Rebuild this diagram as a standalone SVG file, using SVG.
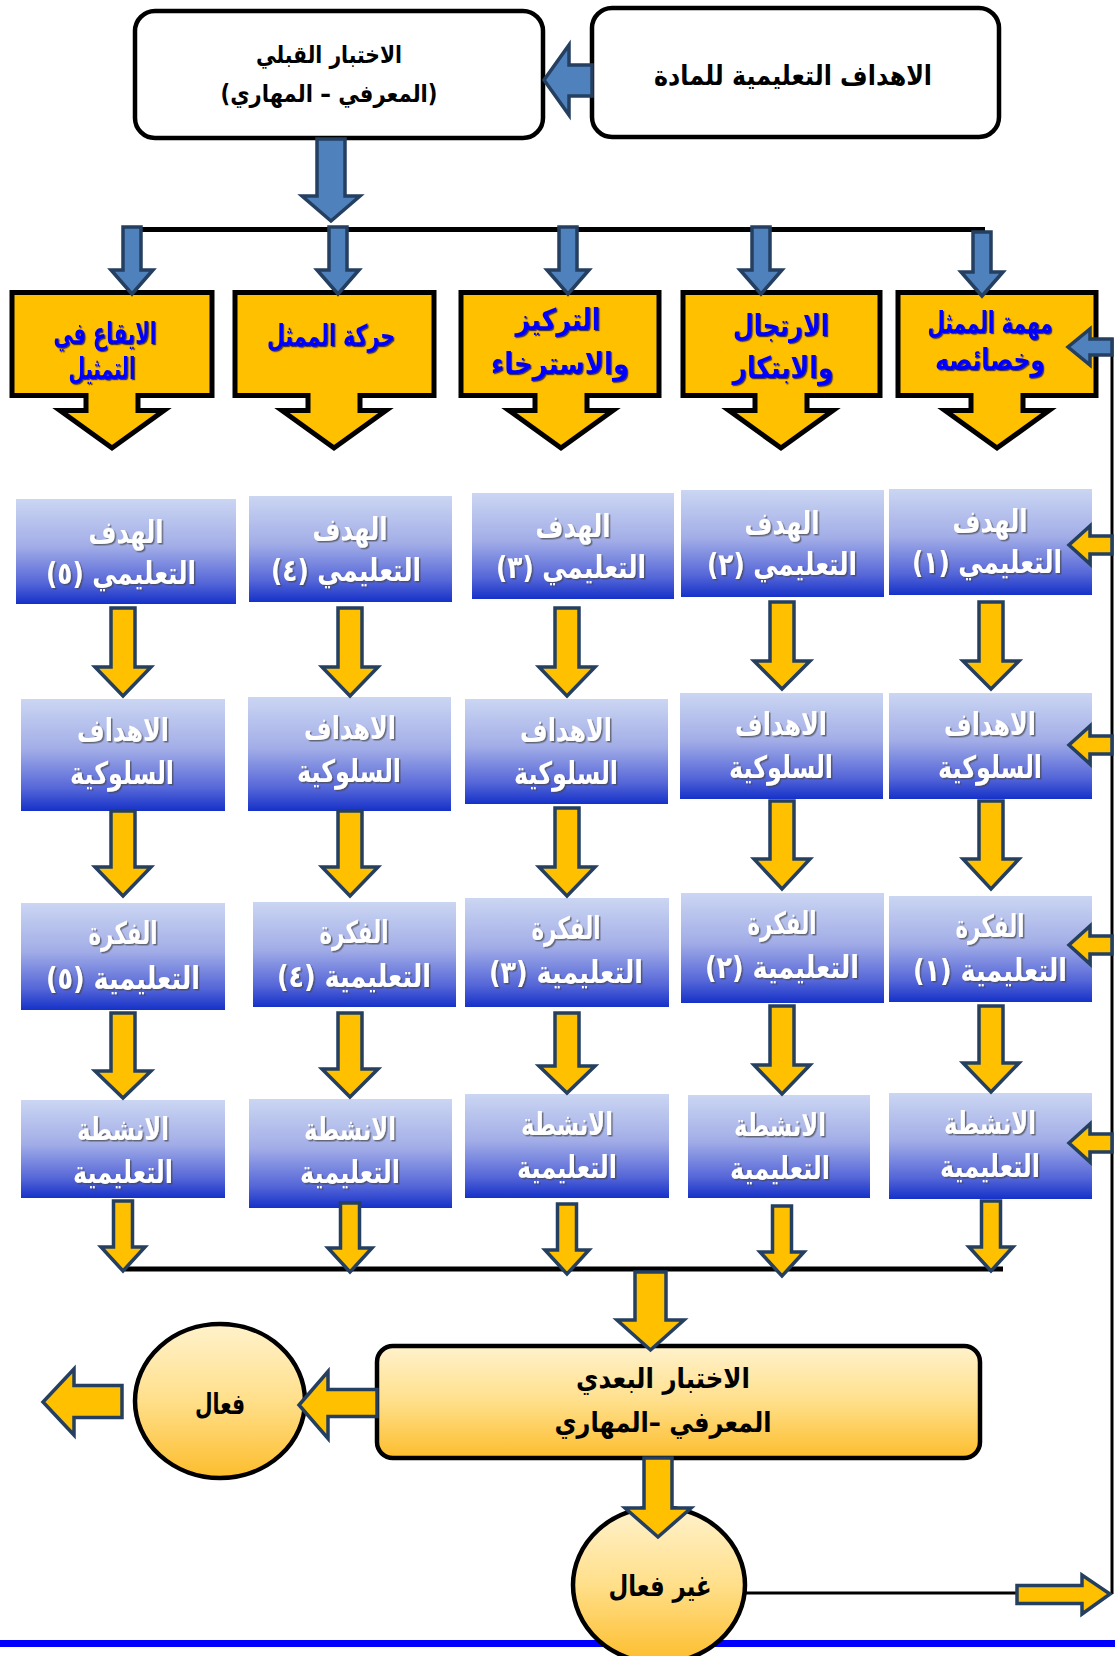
<svg xmlns="http://www.w3.org/2000/svg" width="1115" height="1656" viewBox="0 0 1115 1656">
<defs>
<linearGradient id="gb" x1="0" y1="0" x2="0" y2="1">
<stop offset="0" stop-color="#CBD6F3"/>
<stop offset="0.45" stop-color="#A2ADE7"/>
<stop offset="0.8" stop-color="#5566D8"/>
<stop offset="1" stop-color="#1531C8"/>
</linearGradient>
<linearGradient id="gy" x1="0" y1="0" x2="0" y2="1">
<stop offset="0" stop-color="#FFF2CC"/>
<stop offset="0.5" stop-color="#FFDF8A"/>
<stop offset="1" stop-color="#FDBD2C"/>
</linearGradient>
<filter id="ws" x="-10%" y="-10%" width="120%" height="130%">
<feDropShadow dx="1.5" dy="1.5" stdDeviation="0.6" flood-color="#444" flood-opacity="0.7"/>
</filter>
<filter id="bs" x="-10%" y="-10%" width="120%" height="130%">
<feDropShadow dx="1.2" dy="1.2" stdDeviation="0.4" flood-color="#000050" flood-opacity="0.7"/>
</filter>
</defs>
<style>
.t{font-family:"DejaVu Sans",sans-serif;font-weight:bold;text-anchor:middle;direction:rtl}
.k{fill:#000}
.w{fill:#fff;font-size:31px;filter:url(#ws)}
.y{fill:#0000FF;font-size:30px;filter:url(#bs)}
.wb{fill:#fff;stroke:#000;stroke-width:4.5}
.cb{fill:#FFC000;stroke:#000;stroke-width:5}
.bb{fill:url(#gb)}
.gy{fill:url(#gy);stroke:#000;stroke-width:4.5}
.ba{fill:#4F81BD;stroke:#243F60;stroke-width:3.5}
.ya{fill:#FFC000;stroke:#243F60;stroke-width:3.5}
.ln{fill:none;stroke:#000;stroke-width:5}
.ln3{fill:none;stroke:#000;stroke-width:3}
</style>
<rect width="1115" height="1656" fill="#fff"/>
<line x1="0" y1="1643.5" x2="1115" y2="1643.5" stroke="#0000FF" stroke-width="7"/>

<g id="lines">
<line class="ln" x1="133" y1="229.5" x2="985" y2="229.5"/>
<line class="ln" x1="125" y1="1269" x2="1003" y2="1269"/>
<line class="ln3" x1="1112" y1="338" x2="1112" y2="1594"/>
<line class="ln3" x1="743" y1="1593" x2="1017" y2="1593"/>
</g>

<g id="node-pretest">
<rect class="wb" x="135" y="11" width="408" height="127" rx="20"/>
<text class="t k" x="329" y="63" font-size="24" textLength="146" lengthAdjust="spacingAndGlyphs">الاختبار القبلي</text>
<text class="t k" x="329" y="102" font-size="24" textLength="217" lengthAdjust="spacingAndGlyphs">(المعرفي – المهاري)</text>
</g>
<g id="node-objectives">
<rect class="wb" x="592" y="8" width="407" height="129" rx="20"/>
<text class="t k" x="793" y="85" font-size="27" textLength="278" lengthAdjust="spacingAndGlyphs">الاهداف التعليمية للمادة</text>
</g>

<g id="node-topic5">
<path class="cb" d="M12,292.5 H212 V395.5 H138 V410.5 H164 L112,448 L60,410.5 H86 V395.5 H12 Z"/>
<text class="t y" x="105" y="344" textLength="103" lengthAdjust="spacingAndGlyphs">الايقاع في</text>
<text class="t y" x="102" y="379" textLength="67" lengthAdjust="spacingAndGlyphs">التمثيل</text>
</g>
<g id="node-topic4">
<path class="cb" d="M235,292.5 H434 V395.5 H360 V410.5 H386 L334,448 L282,410.5 H308 V395.5 H235 Z"/>
<text class="t y" x="331" y="346" textLength="128" lengthAdjust="spacingAndGlyphs">حركة الممثل</text>
</g>
<g id="node-topic3">
<path class="cb" d="M461,292.5 H659 V395.5 H587 V410.5 H613 L561,448 L509,410.5 H535 V395.5 H461 Z"/>
<text class="t y" x="558" y="330" textLength="85" lengthAdjust="spacingAndGlyphs">التركيز</text>
<text class="t y" x="560" y="374" textLength="138" lengthAdjust="spacingAndGlyphs">والاسترخاء</text>
</g>
<g id="node-topic2">
<path class="cb" d="M683,292.5 H880 V395.5 H807 V410.5 H833 L781,448 L729,410.5 H755 V395.5 H683 Z"/>
<text class="t y" x="781" y="336" textLength="96" lengthAdjust="spacingAndGlyphs">الارتجال</text>
<text class="t y" x="783" y="378" textLength="101" lengthAdjust="spacingAndGlyphs">والابتكار</text>
</g>
<g id="node-topic1">
<path class="cb" d="M898,292.5 H1096 V395.5 H1023 V410.5 H1049 L997,448 L945,410.5 H971 V395.5 H898 Z"/>
<text class="t y" x="990" y="333" font-size="27" textLength="125" lengthAdjust="spacingAndGlyphs">مهمة الممثل</text>
<text class="t y" x="990" y="370" font-size="27" textLength="110" lengthAdjust="spacingAndGlyphs">وخصائصه</text>
</g>

<g id="node-goal5"><rect class="bb" x="16" y="499" width="220" height="105"/>
<text class="t w" x="126" y="543" textLength="75" lengthAdjust="spacingAndGlyphs">الهدف</text><text class="t w" x="121" y="584" textLength="150" lengthAdjust="spacingAndGlyphs">التعليمي (٥)</text></g>
<g id="node-goal4"><rect class="bb" x="249" y="496" width="203" height="106"/>
<text class="t w" x="350" y="540" textLength="75" lengthAdjust="spacingAndGlyphs">الهدف</text><text class="t w" x="346" y="581" textLength="150" lengthAdjust="spacingAndGlyphs">التعليمي (٤)</text></g>
<g id="node-goal3"><rect class="bb" x="472" y="493" width="202" height="106"/>
<text class="t w" x="573" y="537" textLength="75" lengthAdjust="spacingAndGlyphs">الهدف</text><text class="t w" x="571" y="578" textLength="150" lengthAdjust="spacingAndGlyphs">التعليمي (٣)</text></g>
<g id="node-goal2"><rect class="bb" x="681" y="490" width="203" height="107"/>
<text class="t w" x="782" y="534" textLength="75" lengthAdjust="spacingAndGlyphs">الهدف</text><text class="t w" x="782" y="575" textLength="150" lengthAdjust="spacingAndGlyphs">التعليمي (٢)</text></g>
<g id="node-goal1"><rect class="bb" x="889" y="489" width="203" height="106"/>
<text class="t w" x="990" y="532" textLength="75" lengthAdjust="spacingAndGlyphs">الهدف</text><text class="t w" x="987" y="573" textLength="150" lengthAdjust="spacingAndGlyphs">التعليمي (١)</text></g>

<g id="node-behav5"><rect class="bb" x="21" y="699" width="204" height="112"/>
<text class="t w" x="123" y="741" textLength="92" lengthAdjust="spacingAndGlyphs">الاهداف</text><text class="t w" x="122" y="784" textLength="104" lengthAdjust="spacingAndGlyphs">السلوكية</text></g>
<g id="node-behav4"><rect class="bb" x="248" y="697" width="203" height="114"/>
<text class="t w" x="350" y="739" textLength="92" lengthAdjust="spacingAndGlyphs">الاهداف</text><text class="t w" x="349" y="782" textLength="104" lengthAdjust="spacingAndGlyphs">السلوكية</text></g>
<g id="node-behav3"><rect class="bb" x="465" y="699" width="203" height="105"/>
<text class="t w" x="566" y="741" textLength="92" lengthAdjust="spacingAndGlyphs">الاهداف</text><text class="t w" x="566" y="784" textLength="104" lengthAdjust="spacingAndGlyphs">السلوكية</text></g>
<g id="node-behav2"><rect class="bb" x="680" y="693" width="203" height="106"/>
<text class="t w" x="781" y="735" textLength="92" lengthAdjust="spacingAndGlyphs">الاهداف</text><text class="t w" x="781" y="778" textLength="104" lengthAdjust="spacingAndGlyphs">السلوكية</text></g>
<g id="node-behav1"><rect class="bb" x="889" y="693" width="203" height="106"/>
<text class="t w" x="990" y="735" textLength="92" lengthAdjust="spacingAndGlyphs">الاهداف</text><text class="t w" x="990" y="778" textLength="104" lengthAdjust="spacingAndGlyphs">السلوكية</text></g>

<g id="node-idea5"><rect class="bb" x="21" y="903" width="204" height="107"/>
<text class="t w" x="123" y="944" textLength="69" lengthAdjust="spacingAndGlyphs">الفكرة</text><text class="t w" x="123" y="989" textLength="154" lengthAdjust="spacingAndGlyphs">التعليمية (٥)</text></g>
<g id="node-idea4"><rect class="bb" x="253" y="902" width="203" height="105"/>
<text class="t w" x="354" y="943" textLength="69" lengthAdjust="spacingAndGlyphs">الفكرة</text><text class="t w" x="354" y="987" textLength="154" lengthAdjust="spacingAndGlyphs">التعليمية (٤)</text></g>
<g id="node-idea3"><rect class="bb" x="465" y="898" width="204" height="109"/>
<text class="t w" x="566" y="939" textLength="69" lengthAdjust="spacingAndGlyphs">الفكرة</text><text class="t w" x="566" y="983" textLength="154" lengthAdjust="spacingAndGlyphs">التعليمية (٣)</text></g>
<g id="node-idea2"><rect class="bb" x="681" y="893" width="203" height="110"/>
<text class="t w" x="782" y="934" textLength="69" lengthAdjust="spacingAndGlyphs">الفكرة</text><text class="t w" x="782" y="978" textLength="154" lengthAdjust="spacingAndGlyphs">التعليمية (٢)</text></g>
<g id="node-idea1"><rect class="bb" x="889" y="896" width="203" height="106"/>
<text class="t w" x="990" y="937" textLength="69" lengthAdjust="spacingAndGlyphs">الفكرة</text><text class="t w" x="990" y="981" textLength="154" lengthAdjust="spacingAndGlyphs">التعليمية (١)</text></g>

<g id="node-act5"><rect class="bb" x="21" y="1100" width="204" height="98"/>
<text class="t w" x="123" y="1140" textLength="92" lengthAdjust="spacingAndGlyphs">الانشطة</text><text class="t w" x="123" y="1183" textLength="100" lengthAdjust="spacingAndGlyphs">التعليمية</text></g>
<g id="node-act4"><rect class="bb" x="249" y="1099" width="203" height="109"/>
<text class="t w" x="350" y="1140" textLength="92" lengthAdjust="spacingAndGlyphs">الانشطة</text><text class="t w" x="350" y="1183" textLength="100" lengthAdjust="spacingAndGlyphs">التعليمية</text></g>
<g id="node-act3"><rect class="bb" x="465" y="1094" width="204" height="104"/>
<text class="t w" x="567" y="1135" textLength="92" lengthAdjust="spacingAndGlyphs">الانشطة</text><text class="t w" x="567" y="1178" textLength="100" lengthAdjust="spacingAndGlyphs">التعليمية</text></g>
<g id="node-act2"><rect class="bb" x="688" y="1095" width="182" height="103"/>
<text class="t w" x="780" y="1136" textLength="92" lengthAdjust="spacingAndGlyphs">الانشطة</text><text class="t w" x="780" y="1179" textLength="100" lengthAdjust="spacingAndGlyphs">التعليمية</text></g>
<g id="node-act1"><rect class="bb" x="889" y="1093" width="203" height="106"/>
<text class="t w" x="990" y="1134" textLength="92" lengthAdjust="spacingAndGlyphs">الانشطة</text><text class="t w" x="990" y="1177" textLength="100" lengthAdjust="spacingAndGlyphs">التعليمية</text></g>

<g id="node-posttest">
<rect class="gy" x="377" y="1346" width="603" height="112" rx="16"/>
<text class="t k" x="663" y="1388" font-size="28" textLength="174" lengthAdjust="spacingAndGlyphs">الاختبار البعدي</text>
<text class="t k" x="663" y="1432" font-size="28" textLength="217" lengthAdjust="spacingAndGlyphs">المعرفي –المهاري</text>
</g>
<g id="node-effective">
<ellipse class="gy" cx="220" cy="1401" rx="85" ry="77"/>
<text class="t k" x="220" y="1414" font-size="29" textLength="50" lengthAdjust="spacingAndGlyphs">فعال</text>
</g>
<g id="node-ineffective">
<ellipse class="gy" cx="659" cy="1585" rx="86" ry="78"/>
<text class="t k" x="660" y="1596" font-size="29" textLength="103" lengthAdjust="spacingAndGlyphs">غير فعال</text>
</g>

<g id="connectors">
<path class="ba" d="M592,65 H569 V45 L544,80 L569,115 V96 H592 Z"/>
<path class="ba" d="M317,139 H345 V196 H360 L331,221 L302,196 H317 Z"/>
<path class="ba" d="M123,227 H141 V270 H153 L132,294 L111,270 H123 Z"/>
<path class="ba" d="M329,227 H347 V270 H359 L338,294 L317,270 H329 Z"/>
<path class="ba" d="M559,227 H577 V270 H589 L568,294 L547,270 H559 Z"/>
<path class="ba" d="M752,227 H770 V270 H782 L761,294 L740,270 H752 Z"/>
<path class="ba" d="M973,232 H991 V272 H1003 L982,296 L961,272 H973 Z"/>
<path class="ba" d="M1112,339 H1090 V329 L1068,347 L1090,365 V355 H1112 Z"/>

<path class="ya" d="M111,608 H135 V667 H151 L123,696 L95,667 H111 Z"/>
<path class="ya" d="M338,608 H362 V667 H378 L350,696 L322,667 H338 Z"/>
<path class="ya" d="M555,608 H579 V667 H595 L567,696 L539,667 H555 Z"/>
<path class="ya" d="M770,602 H794 V661 H810 L782,689 L754,661 H770 Z"/>
<path class="ya" d="M979,602 H1003 V661 H1019 L991,689 L963,661 H979 Z"/>

<path class="ya" d="M111,811 H135 V867 H151 L123,896 L95,867 H111 Z"/>
<path class="ya" d="M338,811 H362 V867 H378 L350,896 L322,867 H338 Z"/>
<path class="ya" d="M555,808 H579 V867 H595 L567,896 L539,867 H555 Z"/>
<path class="ya" d="M770,801 H794 V859 H810 L782,889 L754,859 H770 Z"/>
<path class="ya" d="M979,801 H1003 V859 H1019 L991,889 L963,859 H979 Z"/>

<path class="ya" d="M111,1013 H135 V1071 H151 L123,1098 L95,1071 H111 Z"/>
<path class="ya" d="M338,1013 H362 V1069 H378 L350,1097 L322,1069 H338 Z"/>
<path class="ya" d="M555,1013 H579 V1066 H595 L567,1093 L539,1066 H555 Z"/>
<path class="ya" d="M770,1006 H794 V1065 H810 L782,1094 L754,1065 H770 Z"/>
<path class="ya" d="M979,1006 H1003 V1063 H1019 L991,1092 L963,1063 H979 Z"/>

<path class="ya" d="M113.5,1201 H132.5 V1247 H145 L123,1271 L101,1247 H113.5 Z"/>
<path class="ya" d="M340.5,1203 H359.5 V1248 H372 L350,1272 L328,1248 H340.5 Z"/>
<path class="ya" d="M557.5,1204 H576.5 V1250 H589 L567,1274 L545,1250 H557.5 Z"/>
<path class="ya" d="M772.5,1206 H791.5 V1252 H804 L782,1276 L760,1252 H772.5 Z"/>
<path class="ya" d="M981.5,1201 H1000.5 V1247 H1013 L991,1271 L969,1247 H981.5 Z"/>

<path class="ya" d="M1112,536 H1090 V526 L1069,545 L1090,564 V554 H1112 Z"/>
<path class="ya" d="M1112,736 H1090 V726 L1069,745 L1090,764 V754 H1112 Z"/>
<path class="ya" d="M1112,936 H1090 V926 L1069,945 L1090,964 V954 H1112 Z"/>
<path class="ya" d="M1112,1134 H1090 V1124 L1069,1143 L1090,1162 V1152 H1112 Z"/>

<path class="ya" d="M635,1272 H666 V1320 H684 L650.5,1350 L617,1320 H635 Z"/>
<path class="ya" d="M377,1389.5 H328 V1371.5 L299,1405 L328,1438.5 V1416.5 H377 Z"/>
<path class="ya" d="M122,1385.5 H74 V1369 L43,1402 L74,1435 V1417.5 H122 Z"/>
<path class="ya" d="M644,1458 H672 V1508 H691 L658,1537 L625,1508 H644 Z"/>
<path class="ya" d="M1017,1585.5 H1082 V1575 L1110,1594 L1082,1614 V1603.5 H1017 Z"/>
</g>
</svg>
